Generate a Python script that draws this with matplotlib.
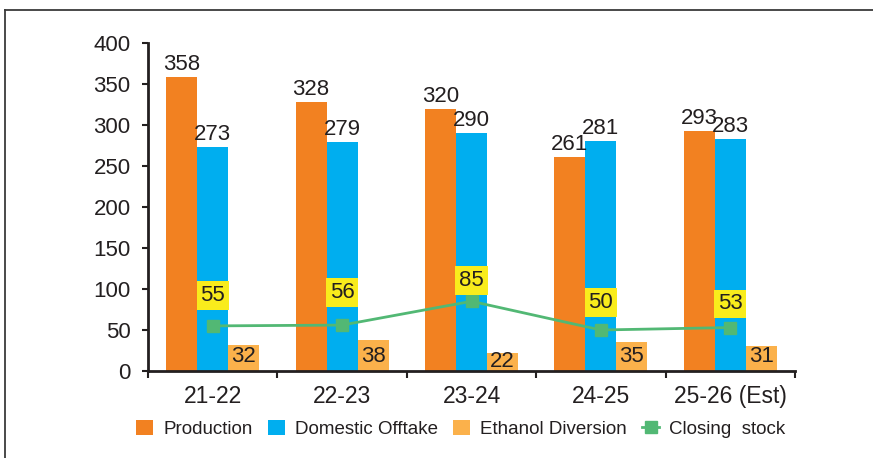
import matplotlib
matplotlib.use("Agg")
import matplotlib.pyplot as plt
import numpy as np
from matplotlib.lines import Line2D

plt.rcParams['font.family'] = ['Liberation Sans', 'DejaVu Sans']

categories = ["21-22", "22-23", "23-24", "24-25", "25-26 (Est)"]
production = [358, 328, 320, 261, 293]
domestic_offtake = [273, 279, 290, 281, 283]
ethanol_diversion = [32, 38, 22, 35, 31]
closing_stock = [55, 56, 85, 50, 53]
yticks = [0, 50, 100, 150, 200, 250, 300, 350, 400]

# label placement (style): vertical offsets of closing-stock labels, in points
cs_label_offsets = [22, 23.5, 15, 20, 17]

C_PROD = '#F28121'
C_DOM = '#00AEEF'
C_ETH = '#FBB14B'
C_CS = '#52B874'
C_LBL = '#F9EC1C'
TXT = '#231F20'

fig = plt.figure(figsize=(8.73, 4.58), dpi=100)
ax = fig.add_axes([148/873, (458-371)/458, (795-148)/873, (371-43)/458])

x = np.arange(len(categories))
w = 0.24
b1 = ax.bar(x - w, production, w, color=C_PROD, label='Production')
b2 = ax.bar(x, domestic_offtake, w, color=C_DOM, label='Domestic Offtake')
b3 = ax.bar(x + w, ethanol_diversion, w, color=C_ETH, label='Ethanol Diversion')
ln, = ax.plot(x, closing_stock, color=C_CS, lw=2, marker='s', markersize=8.5,
              label='Closing  stock')

FS = 16
for xi, v in zip(x - w, production):
    ax.annotate(str(v), (xi, v), xytext=(0, 5), textcoords='offset points',
                ha='center', va='baseline', fontsize=FS, color=TXT)
for xi, v in zip(x, domestic_offtake):
    ax.annotate(str(v), (xi, v), xytext=(0, 5), textcoords='offset points',
                ha='center', va='baseline', fontsize=FS, color=TXT)
for xi, v in zip(x + w, ethanol_diversion):
    ax.text(xi, min(v - 10, 18), str(v), ha='center', va='center',
            fontsize=FS, color=TXT)
for xi, v, off in zip(x, closing_stock, cs_label_offsets):
    ax.annotate(str(v), (xi, v), xytext=(0, off), textcoords='offset points',
                ha='center', va='center', fontsize=FS, color=TXT,
                bbox=dict(boxstyle='square,pad=0.17', fc=C_LBL, ec='none'))

ax.set_xlim(-0.5, len(categories) - 0.5)
ax.set_ylim(0, 400)
ax.set_yticks(yticks)
ax.set_yticklabels([str(t) for t in yticks])
ax.set_xticks(np.arange(len(categories) + 1) - 0.5)
ax.set_xticklabels([])
ax.set_xticks(x, minor=True)
ax.set_xticklabels(categories, minor=True)
ax.tick_params(axis='x', which='major', direction='out', length=5, width=1.5, color=TXT)
ax.tick_params(axis='x', which='minor', length=0, pad=10, labelsize=16.5, labelcolor=TXT)
ax.tick_params(axis='y', direction='out', length=4.5, width=1.5, color=TXT,
               pad=8, labelsize=16, labelcolor=TXT)
for s in ['top', 'right']:
    ax.spines[s].set_visible(False)
for s in ['left', 'bottom']:
    ax.spines[s].set_linewidth(2)
    ax.spines[s].set_color(TXT)

leg = fig.legend(handles=[b1, b2, b3, ln], loc='center', ncol=4,
                 bbox_to_anchor=(461/873, (458-429)/458), frameon=False,
                 fontsize=13.5, handlelength=0.9, handleheight=0.9,
                 handletextpad=0.55, columnspacing=0.8, labelcolor=TXT)

fig.add_artist(Line2D([5/873, 1], [1 - 10/458, 1 - 10/458], color='#3a3a3a', lw=1.3))
fig.add_artist(Line2D([5/873, 5/873], [0, 1 - 10/458], color='#3a3a3a', lw=1.3))

fig.savefig('out.png', dpi=100)
